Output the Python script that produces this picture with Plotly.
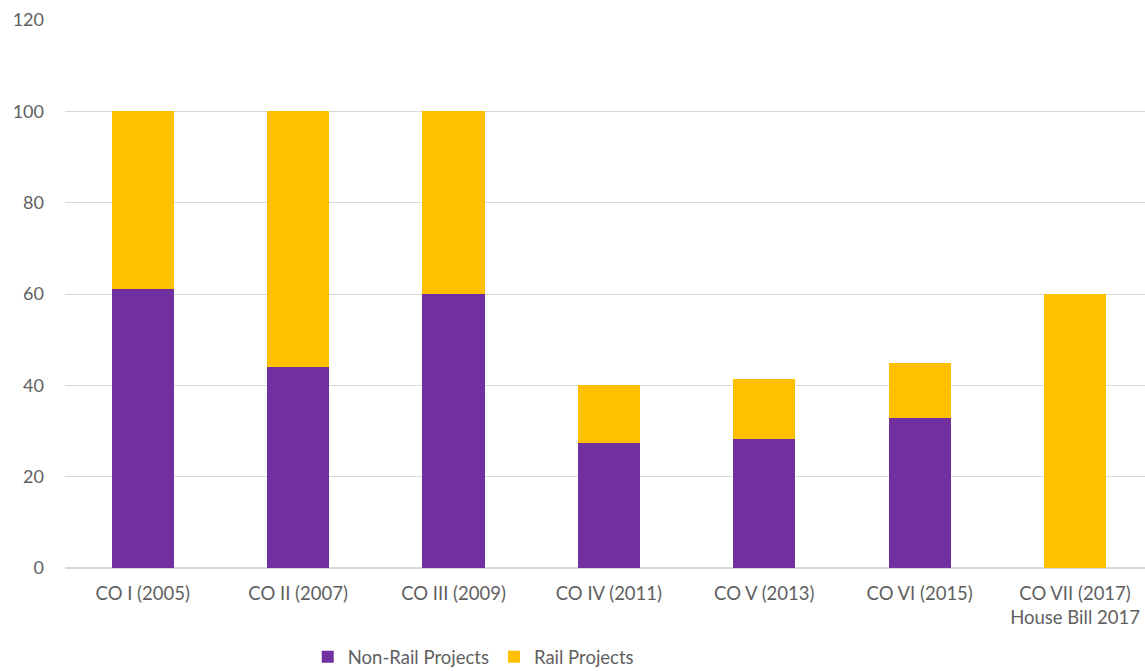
import plotly.graph_objects as go

categories = ["CO I (2005)", "CO II (2007)", "CO III (2009)", "CO IV (2011)",
              "CO V (2013)", "CO VI (2015)", "CO VII (2017)<br>House Bill 2017"]
non_rail = [61, 44, 60, 27.4, 28.2, 32.8, 0]
rail = [39, 56, 40, 12.6, 13.2, 12.0, 60]
y_ticks = [0, 20, 40, 60, 80, 100, 120]

FONT = "Lato"
TXT = "#5f5f5f"
fig = go.Figure()
fig.add_trace(go.Bar(x=categories, y=non_rail, name="Non-Rail Projects",
                     marker=dict(color="#7030A0", line=dict(width=0))))
fig.add_trace(go.Bar(x=categories, y=rail, name="Rail Projects",
                     marker=dict(color="#FFC000", line=dict(width=0))))

fig.update_layout(
    barmode="stack",
    bargap=0.6,
    width=1145, height=671,
    margin=dict(l=65, r=0, t=20, b=103, autoexpand=False),
    paper_bgcolor="white", plot_bgcolor="white",
    font=dict(family=FONT, size=18, color=TXT),
    showlegend=True,
    legend=dict(orientation="h", x=0.378, xanchor="center", y=-0.163, yanchor="middle",
                font=dict(size=18.5, color=TXT), itemwidth=30, traceorder="normal",
                tracegroupgap=0),
    xaxis=dict(range=[-0.5, 6.45], showgrid=False, showline=False, zeroline=False,
               tickfont=dict(size=18.5, color=TXT), automargin=False, ticks="",
               ticklabelstandoff=12),
    yaxis=dict(range=[0, 120], tickvals=y_ticks, showgrid=True, gridcolor="#D9D9D9",
               gridwidth=1, zeroline=True, zerolinecolor="#D9D9D9", showline=False,
               tickfont=dict(size=18, color=TXT), automargin=False,
               ticklabelstandoff=20),
)
fig.write_html("out.html")
